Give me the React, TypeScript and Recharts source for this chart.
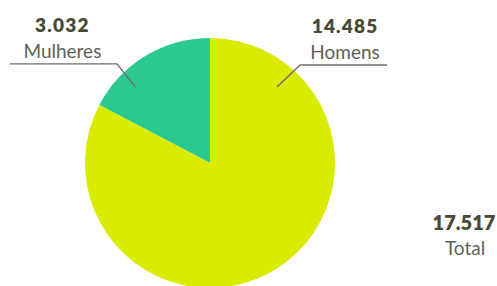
import React from "react";
import { PieChart, Pie, Cell, Customized } from "recharts";

const categories = ["Mulheres", "Homens"];
const values = [3032, 14485];
const colors = ["#2cc98f", "#d8eb00"];
// leader line geometry per label (angles in degrees, radii as fraction of outer radius)
const anchorAngles = [134.5, 48.6];
const anchorRadii = [0.85, 0.81];
const elbowAngles = [133.2, 47.4];
const elbowRadii = [1.088, 1.065];
const labelSides = [-1, 1];
const totalLabel = "Total";

const data = categories.map((name, i) => ({ name, value: values[i] }));
const total = values.reduce((a, b) => a + b, 0);

const fmt = (n: number) => String(n).replace(/\B(?=(\d{3})+(?!\d))/g, ".");

const RAD = Math.PI / 180;
const FONT = "Lato, 'Open Sans', sans-serif";

const renderLabel = (props: any) => {
  const { cx, cy, outerRadius, index } = props;
  const side = labelSides[index];
  const r1 = outerRadius * anchorRadii[index];
  const r2 = outerRadius * elbowRadii[index];
  const a1 = anchorAngles[index] * RAD;
  const a2 = elbowAngles[index] * RAD;
  const x1 = cx + r1 * Math.cos(a1);
  const y1 = cy - r1 * Math.sin(a1);
  const x2 = cx + r2 * Math.cos(a2);
  const y2 = cy - r2 * Math.sin(a2);
  const len = side < 0 ? 107 : 87;
  const x3 = x2 + side * len;
  const tx = (x2 + x3) / 2 + (side < 0 ? -1 : 1.5);
  return (
    <g key={`lbl-${index}`}>
      <polyline
        points={`${x1},${y1} ${x2},${y2} ${x3},${y2}`}
        fill="none"
        stroke="#6e706a"
        strokeWidth={1.4}
      />
      <text
        x={tx}
        y={y2 - 32}
        textAnchor="middle"
        fontFamily={FONT}
        fontWeight={800}
        fontSize={19}
        letterSpacing={1.2}
        fill="#474b35"
      >
        {fmt(values[index])}
      </text>
      <text
        x={tx}
        y={y2 - 6}
        textAnchor="middle"
        fontFamily={FONT}
        fontSize={19}
        fill="#5d5f58"
      >
        {categories[index]}
      </text>
    </g>
  );
};

const TotalText = () => (
  <g>
    <text
      x={464}
      y={230}
      textAnchor="middle"
      fontFamily={FONT}
      fontWeight={800}
      fontSize={20}
      fill="#474b35"
    >
      {fmt(total)}
    </text>
    <text
      x={465}
      y={255}
      textAnchor="middle"
      fontFamily={FONT}
      fontSize={19}
      fill="#5d5f58"
    >
      {totalLabel}
    </text>
  </g>
);

export default function App() {
  return (
    <div style={{ position: "absolute", left: 0, top: 0, background: "#fff" }}>
      <PieChart width={497} height={286} margin={{ top: 0, right: 0, bottom: 0, left: 0 }}>
        <Pie
          data={data}
          dataKey="value"
          nameKey="name"
          cx={210}
          cy={163}
          outerRadius={125}
          startAngle={90}
          endAngle={450}
          stroke="none"
          isAnimationActive={false}
          label={renderLabel}
          labelLine={false}
        >
          {data.map((d, i) => (
            <Cell key={d.name} fill={colors[i]} />
          ))}
        </Pie>
        <Customized component={TotalText} />
      </PieChart>
    </div>
  );
}
